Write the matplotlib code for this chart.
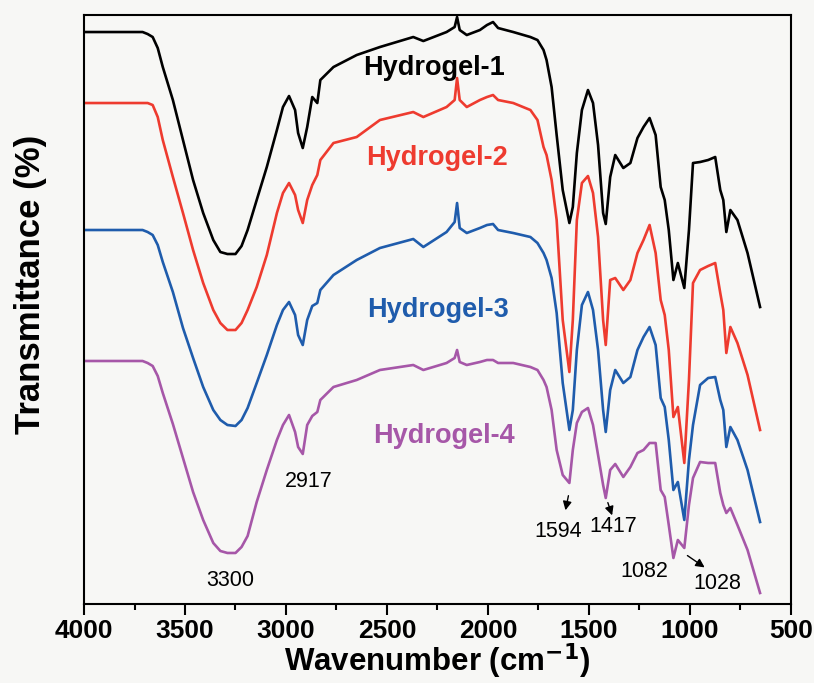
import numpy as np
import matplotlib.pyplot as plt

plt.rcParams['font.family'] = ['Liberation Sans', 'DejaVu Sans']

# wavenumber grid (cm-1) shared by all four spectra
wavenumber = [4000, 3710, 3685, 3660, 3635, 3610, 3560, 3510, 3460, 3410, 3360, 3325, 3290,
              3250, 3220, 3190, 3145, 3095, 3045, 3015,
              2985, 2955, 2940, 2917, 2895, 2870, 2845, 2830, 2765, 2650, 2535, 2370, 2320,
              2205, 2165, 2153, 2140, 2105, 2040, 2005, 1975, 1950, 1875,
              1790, 1755, 1725, 1710, 1685, 1660, 1630, 1597, 1580, 1560, 1535, 1505, 1480,
              1455, 1430, 1417, 1395, 1370, 1330, 1295, 1260, 1230, 1200, 1170, 1145, 1125,
              1105, 1082, 1060, 1028, 1005, 985, 950, 910, 875, 850, 835, 820, 800, 765,
              715, 653]

# transmittance (stacked, arbitrary units)
hydrogel_1 = [572, 572, 570, 567, 556, 537, 504, 464, 424, 391, 364, 352, 350, 350, 358, 374,
              404, 437, 474, 497,
              508, 494, 471, 456, 477, 507, 501, 524, 537, 549, 557, 567, 563, 572, 577, 587,
              574, 569, 574, 579, 582, 576, 572,
              567, 564, 554, 544, 517, 469, 414, 381, 397, 451, 494, 514, 501, 459, 391, 380,
              427, 449, 436, 441, 466, 477, 486, 469, 417, 404, 374, 324, 341, 316, 374, 441,
              442, 444, 447, 414, 404, 372, 394, 384, 351, 297]
hydrogel_2 = [501, 501, 501, 499, 487, 464, 427, 391, 354, 321, 294, 281, 274, 274, 281, 294,
              317, 349, 391, 411,
              421, 409, 394, 381, 404, 419, 429, 444, 461, 467, 484, 492, 487, 497, 504, 526,
              504, 497, 504, 507, 509, 504, 501,
              494, 484, 457, 449, 424, 384, 284, 232, 284, 384, 421, 428, 411, 367, 284, 259,
              324, 326, 314, 324, 351, 364, 379, 351, 304, 289, 254, 187, 197, 141, 224, 321,
              334, 338, 341, 311, 294, 251, 277, 261, 229, 174]
hydrogel_3 = [374, 374, 372, 369, 359, 342, 312, 276, 246, 217, 194, 184, 179, 178, 184, 196,
              221, 249, 279, 294,
              302, 289, 269, 259, 284, 298, 301, 314, 329, 344, 356, 365, 357, 372, 382, 401,
              376, 371, 376, 379, 380, 374, 371,
              367, 361, 351, 344, 326, 291, 221, 174, 194, 254, 299, 312, 294, 254, 194, 172,
              214, 234, 221, 227, 254, 267, 277, 259, 206, 197, 164, 114, 122, 84, 144, 179,
              219, 226, 227, 204, 194, 157, 177, 164, 134, 82]
hydrogel_4 = [243, 243, 241, 238, 228, 211, 180, 146, 112, 84, 61, 53, 51, 51, 57, 68,
              102, 134, 164, 179,
              189, 172, 157, 150, 179, 188, 192, 204, 217, 224, 234, 239, 234, 241, 246, 254,
              242, 239, 242, 244, 244, 241, 241,
              237, 234, 224, 217, 194, 154, 129, 121, 154, 181, 192, 196, 179, 149, 119, 106,
              134, 140, 127, 137, 151, 154, 161, 161, 114, 107, 79, 46, 64, 56, 99, 126,
              142, 141, 141, 111, 99, 91, 96, 79, 54, 11]

names = ['Hydrogel-1', 'Hydrogel-2', 'Hydrogel-3', 'Hydrogel-4']
colors = ['#000000', '#ee3b2f', '#1f5cac', '#a657a8']
# label anchor (wavenumber, transmittance)
label_pos = [(2267, 536), (2252, 446), (2247, 294), (2218, 168)]

peaks = ['3300', '2917', '1594', '1417', '1082', '1028']
peak_text = [(3277, 23), (2886, 122), (1653, 72), (1381, 77), (1227, 32), (866, 20)]
# arrows: (start wn, start T, tip wn, tip T)
arrows = [(1599, 111, 1619, 91), (1411, 104, 1381, 86), (1024, 50, 916, 35)]

fig = plt.figure(figsize=(8.14, 6.83), dpi=100, facecolor='#f7f7f5')
ax = fig.add_axes([0.1032, 0.1157, 0.8685, 0.8623])
ax.set_facecolor('#f7f7f5')

for y, c in zip([hydrogel_1, hydrogel_2, hydrogel_3, hydrogel_4], colors):
    ax.plot(wavenumber, y, color=c, lw=1.9, solid_joinstyle='round')

for name, c, (xl, yl) in zip(names, colors, label_pos):
    ax.text(xl, yl, name, color=c, fontsize=19.5, fontweight='bold', ha='center', va='center')

for p, (xt, yt) in zip(peaks, peak_text):
    ax.text(xt, yt, p, fontsize=15.5, ha='center', va='center')

for x0, y0, x1, y1 in arrows:
    ax.annotate('', xy=(x1, y1), xytext=(x0, y0),
                arrowprops=dict(arrowstyle='-|>', color='black', lw=1.0, mutation_scale=13))

ax.set_xlim(4000, 500)
ax.set_ylim(0, 589)
ax.set_xticks([4000, 3500, 3000, 2500, 2000, 1500, 1000, 500])
ax.set_xticks(np.arange(750, 4000, 500), minor=True)
ax.set_yticks([])
ax.tick_params(axis='x', which='major', direction='out', length=8, width=1.5,
               labelsize=19, pad=3)
ax.tick_params(axis='x', which='minor', direction='out', length=4, width=1.5)
for lab in ax.get_xticklabels():
    lab.set_fontweight('bold')
for s in ax.spines.values():
    s.set_linewidth(1.5)

ax.set_xlabel('Wavenumber (cm$^{\\mathbf{-1}}$)', fontsize=22.5, fontweight='bold', labelpad=-1.5)
ax.set_ylabel('Transmittance (%)', fontsize=25, fontweight='bold')
ax.yaxis.set_label_coords(-0.052, 0.542)

fig.savefig('out.png', dpi=100, facecolor=fig.get_facecolor())
